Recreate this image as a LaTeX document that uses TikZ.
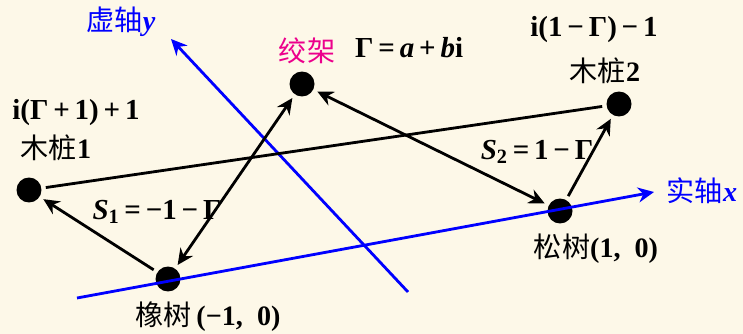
\documentclass[tikz,border=0pt]{standalone}
\usepackage{fontspec}
\setmainfont{Liberation Serif}
\newfontfamily\cjk{Noto Sans CJK SC}
\usetikzlibrary{arrows.meta}
\definecolor{paper}{RGB}{253,248,232}

\begin{document}
\begin{tikzpicture}[x=0.02cm, y=-0.02cm, >={Stealth[length=3.2mm,width=3mm]},
	every node/.style={font=\fontsize{16.5}{18}\selectfont\bfseries},
	dot/.style={circle, fill=black, minimum size=0.5cm, inner sep=0pt, outer sep=0.09cm},
	axis/.style={blue, line width=1.6pt},
	link/.style={black, line width=1.6pt},
	zh/.style={font=\fontsize{16}{18}\selectfont\cjk}]
	\fill[paper] (0,0) rectangle (743,334);
	\useasboundingbox (0,0) rectangle (743,334);
	% points
	\node[dot] (gallows) at (302,84) {};
	\node[dot] (stakeA) at (29,190) {};
	\node[dot] (stakeB) at (619,104) {};
	\node[dot] (oak) at (168,279) {};
	\node[dot] (pine) at (560,211) {};
	% axes
	\coordinate (xs) at (77,298);
	\coordinate (xe) at (654,192);
	\coordinate (ys) at (408,292);
	\coordinate (ye) at (171,39);
	\draw[axis, ->] (xs) -- (xe);
	\draw[axis, ->] (ys) -- (ye);
	\node[zh, blue] (xlab) at (702,191) {实轴\textrm{\textbf{\textit{x}}}};
	\node[zh, blue] (ylab) at (121,22) {虚轴\textrm{\textbf{\textit{y}}}};
	% walks
	\draw[link] (stakeA) -- (stakeB);
	\draw[link, ->] (oak) -- (stakeA);
	\draw[link, <->] (oak) -- (gallows);
	\draw[link, <->] (gallows) -- (pine);
	\draw[link, ->] (pine) -- (stakeB);
	% labels
	\node[zh, magenta] (gname) at (307,51) {绞架};
	\node[anchor=west] (gval) at (349,48) {Γ\,=\,\textit{a}\,+\,\textit{b}i};
	\node (bval) at (594,30) {i(1\,−\,Γ)\,−\,1};
	\node[zh] (bname) at (605,71) {木桩\textrm{\textbf{2}}};
	\node (aval) at (76,113) {i(Γ\,+\,1)\,+\,1};
	\node[zh] (aname) at (56,148) {木桩\textrm{\textbf{1}}};
	\node (sone) at (157,212) {\textit{S}\textsubscript{1}\,=\,−1\,−\,Γ};
	\node (stwo) at (537,152) {\textit{S}\textsubscript{2}\,=\,1\,−\,Γ};
	\node[zh] (oname) at (208,317) {橡树\,\textrm{\textbf{(−1,\ \ 0)}}};
	\node[zh] (pname) at (596,249) {松树\textrm{\textbf{(1,\ \ 0)}}};
\end{tikzpicture}
\end{document}
